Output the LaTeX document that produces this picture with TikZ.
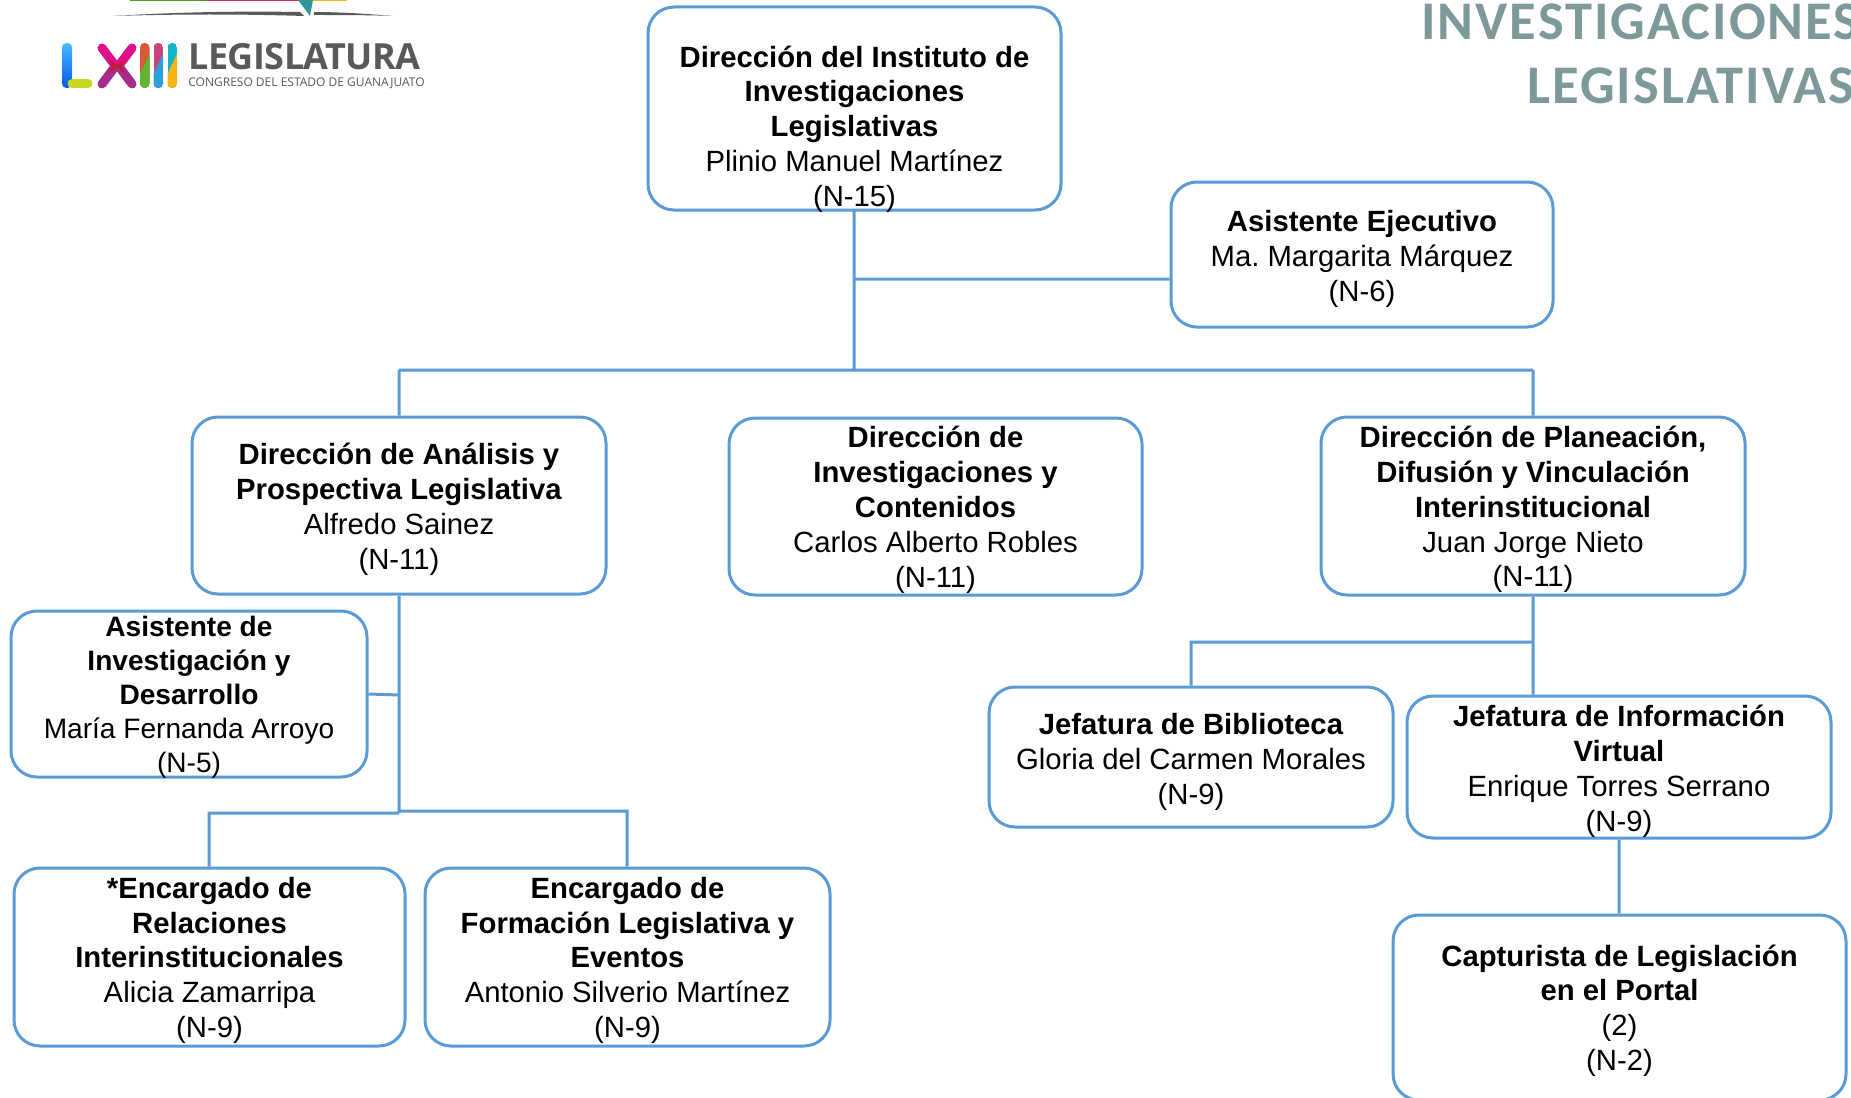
\documentclass[tikz,border=0pt]{standalone}
\usepackage{fontspec}
\setmainfont{Liberation Sans}
\newfontfamily\titlefont[LetterSpace=3.7]{Carlito}
\newfontfamily\logofont[LetterSpace=-1.5]{Open Sans}
\newfontfamily\logosmall{Open Sans}
\usetikzlibrary{positioning}
\definecolor{boxblue}{HTML}{5B9BD5}
\definecolor{titlegray}{HTML}{7D9999}
\definecolor{logogray}{HTML}{58595B}
\definecolor{logolime}{HTML}{C8D81E}
\definecolor{logopink}{HTML}{E0108A}
\definecolor{logopurple}{HTML}{A62C8C}
\definecolor{logored}{HTML}{C8182E}
\definecolor{logoorange}{HTML}{D9583A}
\definecolor{logogreen}{HTML}{5DB82E}
\definecolor{logorose}{HTML}{C8467E}
\definecolor{logoblue}{HTML}{2E9FD9}
\definecolor{logoteal}{HTML}{12B5C9}
\definecolor{logoyellow}{HTML}{F7B51A}
\tikzset{
  orgbox/.style={draw=boxblue,line width=1.5pt,rounded corners=13pt,inner sep=0pt,fill=white},
  orgtext/.style={align=center,font=\fontsize{14.64}{17.45}\selectfont\frenchspacing,text=black},
  orgsmall/.style={align=center,font=\fontsize{14.05}{17}\selectfont\frenchspacing,text=black},
  orgline/.style={draw=boxblue,line width=1.5pt},
  titletext/.style={text=titlegray,font=\titlefont\bfseries\fontsize{27.2}{31}\selectfont,inner sep=0pt},
  logobar/.style={line width=4.5pt,line cap=round},
}
\newcommand{\orgnode}[7][2pt]{% shift of the text, name, left, top, right, bottom, text
  \node (#2) [orgbox,minimum width={(#5-#3)*0.5pt},minimum height={(#6-#4)*0.5pt}] at ({(#3+#5)/2},{(#4+#6)/2}) {};
  \node (#2t) [orgtext,yshift=-#1] at (#2.center) {#7};
}
\begin{document}
\begin{tikzpicture}[x=0.5pt,y=-0.5pt]
  \useasboundingbox (0,0) rectangle (1851,1097);

  \coordinate (top) at (854,210);
  \coordinate (bar) at (854,370);
  \coordinate (side) at (854,279);
  \coordinate (barl) at (399,370);
  \coordinate (barr) at (1533,370);
  \coordinate (drop) at (399,811);
  \coordinate (dropb) at (399,813);
  \coordinate (asist) at (399,695);
  \coordinate (dropl) at (209,813);
  \coordinate (dropr) at (627,811);
  \coordinate (forkr) at (1533,642);
  \coordinate (forkl) at (1191,642);

  \orgnode[10.3pt]{direccion}{648}{7}{1061}{210}{\textbf{Dirección del Instituto de}\\\textbf{Investigaciones}\\\textbf{Legislativas}\\Plinio Manuel Martínez\\(N-15)}
  \orgnode[2.2pt]{ejecutivo}{1171}{182}{1553}{327}{\textbf{Asistente Ejecutivo}\\Ma. Margarita Márquez\\(N-6)}
  \orgnode{analisis}{192}{417}{606}{594}{\textbf{Dirección de Análisis y}\\\textbf{Prospectiva Legislativa}\\Alfredo Sainez\\(N-11)}
  \orgnode[1.7pt]{contenidos}{729}{418}{1142}{595}{\textbf{Dirección de}\\\textbf{Investigaciones y}\\\textbf{Contenidos}\\Carlos Alberto Robles\\(N-11)}
  \orgnode[1.7pt]{planeacion}{1321}{417}{1745}{595}{\textbf{Dirección de Planeación,}\\\textbf{Difusión y Vinculación}\\\textbf{Interinstitucional}\\Juan Jorge Nieto\\(N-11)}
  \node (desarrollo) [orgbox,minimum width=178pt,minimum height=83pt] at (189,694) {};
  \node (desarrollot) [orgsmall,yshift=-1.5pt] at (desarrollo.center) {\textbf{Asistente de}\\\textbf{Investigación y}\\\textbf{Desarrollo}\\María Fernanda Arroyo\\(N-5)};
  \orgnode[1.7pt]{relaciones}{14}{868}{405}{1046}{\textbf{*Encargado de}\\\textbf{Relaciones}\\\textbf{Interinstitucionales}\\Alicia Zamarripa\\(N-9)}
  \orgnode[1.7pt]{formacion}{425}{868}{830}{1046}{\textbf{Encargado de}\\\textbf{Formación Legislativa y}\\\textbf{Eventos}\\Antonio Silverio Martínez\\(N-9)}
  \orgnode[2.5pt]{biblioteca}{989}{687}{1393}{827}{\textbf{Jefatura de Biblioteca}\\Gloria del Carmen Morales\\(N-9)}
  \orgnode[2.2pt]{virtual}{1407}{696}{1831}{838}{\textbf{Jefatura de Información}\\\textbf{Virtual}\\Enrique Torres Serrano\\(N-9)}
  \orgnode[1.6pt]{capturista}{1393}{915}{1846}{1100}{\textbf{Capturista de Legislación}\\\textbf{en el Portal}\\(2)\\(N-2)}

  \draw[orgline]
    (top) -- (bar)
    (side) -- (ejecutivo.west |- side)
    (barl) -- (barr)
    (barl) -- (analisis.north)
    (barr) -- (planeacion.north)
    (analisis.south) -- (dropb)
    (asist) -- (desarrollo.east)
    (dropb) -- (dropl) -- (relaciones.north -| dropl)
    (drop) -- (dropr) -- (formacion.north -| dropr)
    (planeacion.south) -- (forkr) -- (forkl) -- (biblioteca.north -| forkl)
    (forkr) -- (forkr |- virtual.north)
    (virtual.south) -- (virtual.south |- capturista.north)
  ;

  % title
  \node (titulo1) [titletext,anchor=base west] at (1421,40) {INVESTIGACIONES};
  \node (titulo2) [titletext,anchor=base west] at (1527,104) {LEGISLATIVAS};

  % logo, top piece cut by the page
  \fill[logogreen!85!black] (130,0) rectangle (207,1.5);
  \fill[logored!90!white] (207,0) rectangle (300,1.5);
  \fill[logoyellow] (313,0) rectangle (347,1.5);
  \fill[logogray] (113,16) .. controls (180,12) and (240,11) .. (300,12) -- (304,16) .. controls (240,14) and (180,14) .. (113,16);
  \fill[logogray] (314,12) .. controls (340,12) and (370,14) .. (392,16) .. controls (370,15) and (340,15) .. (314,15) -- cycle;
  \fill[teal!70!cyan!60!gray] (298,0) -- (313,0) -- (310,16) -- cycle;

  % logo, L
  \shade[top color=cyan!60!blue!70,bottom color=blue!60!cyan!90!black,rounded corners=2.2pt] (62,43) rectangle (72,88);
  \draw[logobar,logolime] (72,83.5) -- (88,83.5);
  % logo, X
  \draw[logobar,logopink] (102,48) -- (114,64);
  \draw[logobar,logopink] (132,48) -- (120,64);
  \draw[logobar,logopurple] (102,84) -- (114,68);
  \draw[logobar,logopurple] (132,84) -- (120,68);
  \fill[logored] (108,59) -- (117,65) -- (126,59) -- (121,66) -- (126,74) -- (117,67) -- (108,74) -- (113,66) -- cycle;
  % logo, III
  \foreach \bx/\ctop/\cbot in {140/logoorange/logogreen,153.5/logorose/logoblue,167.5/logoteal/logoyellow}{
    \begin{scope}
      \clip[rounded corners=2.2pt] (\bx,43) rectangle ++(9.5,45);
      \fill[\ctop] (\bx,43) rectangle ++(9.5,45);
      \fill[\cbot] (\bx,74) -- ++(9.5,-20) -- ++(0,34) -- ++(-9.5,0) -- cycle;
    \end{scope}
  }
  \node (legislatura) [anchor=base west,inner sep=0pt,text=logogray,font=\logofont\bfseries\fontsize{18}{18}\selectfont] at (188,70) {LEGISLATURA};
  \node (congreso) [anchor=base west,inner sep=0pt,text=logogray,font=\logosmall\fontsize{6}{6}\selectfont] at (188,87) {CONGRESO DEL ESTADO DE GUANAJUATO};
\end{tikzpicture}
\end{document}
